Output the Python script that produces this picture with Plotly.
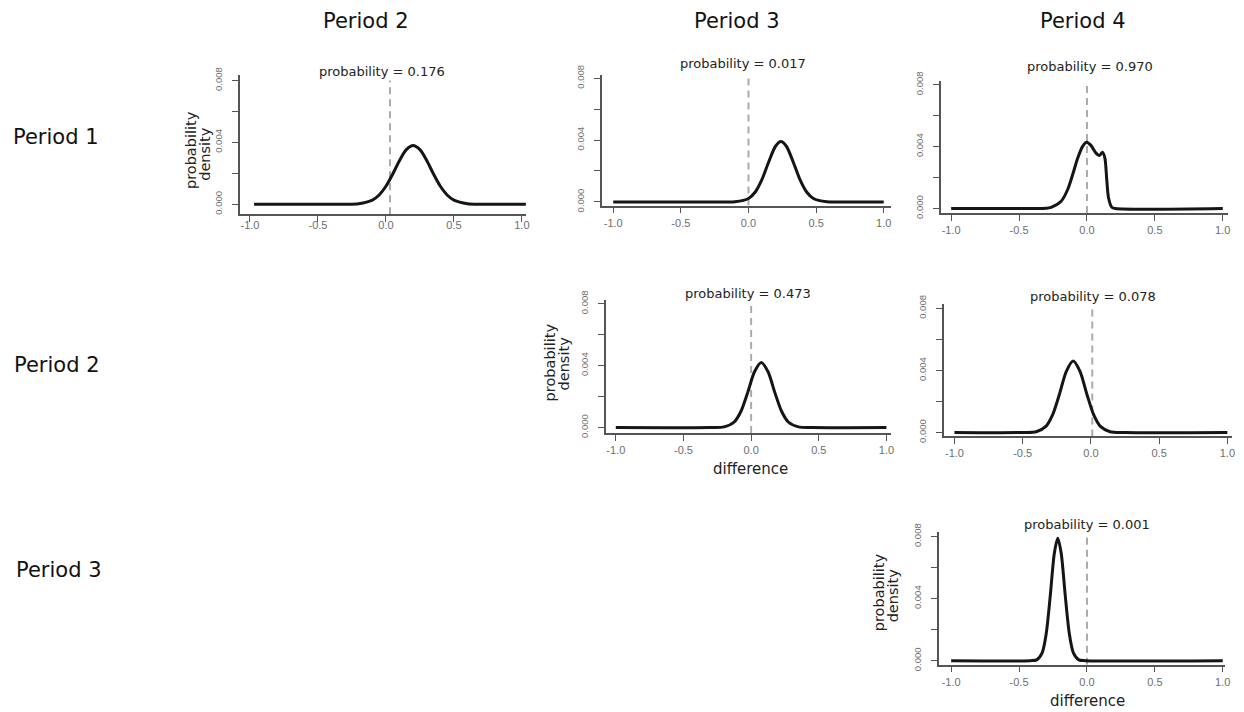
import plotly.graph_objects as go

# ---------------- data ----------------
col_titles = ["Period 2", "Period 3", "Period 4"]
row_titles = ["Period 1", "Period 2", "Period 3"]

x_ticks = [-1.0, -0.5, 0.0, 0.5, 1.0]
x_tick_labels = ["-1.0", "-0.5", "0.0", "0.5", "1.0"]
y_ticks = [0.0, 0.002, 0.004, 0.006, 0.008]
y_tick_labels = ["0.000", "", "0.004", "", "0.008"]

# Period 1 vs Period 2
p1_p2_x = [-0.97, -0.40, -0.30, -0.20, -0.10, -0.05, 0.00, 0.05, 0.10, 0.15, 0.20,
           0.25, 0.30, 0.35, 0.40, 0.45, 0.50, 0.60, 0.70, 1.03]
p1_p2_y = [0.0, 0.0, 0.000002, 0.000034, 0.000266, 0.000598, 0.00116, 0.00195, 0.00283,
           0.00353, 0.0038, 0.00353, 0.00283, 0.00195, 0.00116, 0.000598, 0.000266,
           0.000034, 0.000002, 0.0]
# Period 1 vs Period 3
p1_p3_x = [-1.0, -0.20, -0.10, 0.00, 0.05, 0.10, 0.15, 0.20, 0.24, 0.28, 0.33, 0.38,
           0.43, 0.48, 0.58, 0.70, 1.0]
p1_p3_y = [0.0, 0.0, 0.000012, 0.00022, 0.00064, 0.00146, 0.0026, 0.0036, 0.0039,
           0.0036, 0.0026, 0.00146, 0.00064, 0.00022, 0.000012, 0.0, 0.0]
# Period 1 vs Period 4
p1_p4_x = [-1.0, -0.40, -0.30, -0.264, -0.19, -0.142, -0.105, -0.068, -0.032, -0.002,
           0.029, 0.066, 0.09, 0.115, 0.132, 0.145, 0.159, 0.183, 0.21, 1.0]
p1_p4_y = [0.0, 0.0, 0.00002, 0.00008, 0.00047, 0.00123, 0.0022, 0.00326, 0.00402,
           0.00428, 0.00408, 0.00359, 0.00342, 0.00363, 0.00326, 0.00197, 0.00068,
           0.00008, 0.0, 0.0]
# Period 2 vs Period 3
p2_p3_x = [-1.0, -0.30, -0.20, -0.125, -0.075, -0.025, 0.025, 0.075, 0.125, 0.175,
           0.225, 0.275, 0.35, 0.45, 1.0]
p2_p3_y = [0.0, 0.000001, 0.000039, 0.000355, 0.00105, 0.00227, 0.0036, 0.0042,
           0.0036, 0.00227, 0.00105, 0.000355, 0.000039, 0.0, 0.0]
# Period 2 vs Period 4
p2_p4_x = [-1.0, -0.50, -0.40, -0.33, -0.28, -0.23, -0.18, -0.13, -0.08, -0.03, 0.02,
           0.07, 0.14, 0.25, 1.0]
p2_p4_y = [0.0, 0.0, 0.000051, 0.00039, 0.00115, 0.00248, 0.00394, 0.0046, 0.00394,
           0.00248, 0.00115, 0.00039, 0.000051, 0.0, 0.0]
# Period 3 vs Period 4
p3_p4_x = [-1.0, -0.42, -0.37, -0.33, -0.30, -0.27, -0.24, -0.215, -0.19, -0.16, -0.13,
           -0.10, -0.06, -0.01, 1.0]
p3_p4_y = [0.0, 0.000001, 0.000053, 0.000505, 0.00175, 0.00421, 0.00694, 0.0079,
           0.00694, 0.00421, 0.00175, 0.000505, 0.000053, 0.000001, 0.0]

probabilities = ["0.176", "0.017", "0.970", "0.473", "0.078", "0.001"]
reference_x = [0.03, 0.0, 0.0, 0.0, 0.01, 0.0]

curves_x = [p1_p2_x, p1_p3_x, p1_p4_x, p2_p3_x, p2_p4_x, p3_p4_x]
curves_y = [p1_p2_y, p1_p3_y, p1_p4_y, p2_p3_y, p2_p4_y, p3_p4_y]

# ---------------- layout (pixel geometry of each panel) ----------------
W, H = 1244, 712
# left, right, top, bottom, px of x=-1, px of x=1, px of y=0, px of y=0.008
geom = [
    (241.0, 528.0, 74.0, 213.0, 251.0, 524.0, 203.0, 79.0),
    (604.0, 895.0, 73.3, 204.3, 615.7, 887.3, 200.7, 76.7),
    (944.3, 1233.3, 79.3, 211.7, 955.0, 1227.7, 207.3, 83.3),
    (608.3, 895.0, 299.3, 432.3, 618.3, 890.0, 426.7, 302.7),
    (947.7, 1236.7, 303.3, 435.7, 958.3, 1232.3, 431.7, 307.3),
    (942.7, 1230.0, 531.7, 664.3, 955.0, 1227.7, 660.3, 536.0),
]
x_label_standoff = [-6, 0, 0, 0, 0, 0]
prob_pos = [(384, 70), (746, 62), (1094, 65), (751, 292), (1097, 295), (1091, 524)]

AX = "#555555"
TICKF = "#6e6e6e"
TXT = "#222222"

fig = go.Figure()
layout = dict(width=W, height=H, margin=dict(l=0, r=0, t=0, b=0),
              paper_bgcolor="white", plot_bgcolor="white", showlegend=False)
shapes = []
annotations = []


def px(x):
    return x / W


def fy(y):
    # vertical correction measured between the rendered page and the target
    return (y - 8.4) / 0.978


def py(y):
    return 1 - fy(y) / H


for i in range(6):
    n = i + 1
    sfx = "" if n == 1 else str(n)
    left, right, top, bottom, xa, xb, y0, y8 = geom[i]
    top, bottom, y0, y8 = fy(top), fy(bottom), fy(y0), fy(y8)
    ux = (xb - xa) / 2.0
    vy = (y0 - y8) / 0.008
    xr = [-1 + (left - xa) / ux, 1 + (right - xb) / ux]
    yr = [-(bottom - y0) / vy, 0.008 + (y8 - top) / vy]

    layout["xaxis" + sfx] = dict(
        domain=[px(left), px(right)], range=xr, anchor="y" + sfx,
        showline=True, linecolor=AX, linewidth=1.6, mirror=False,
        ticks="outside", ticklen=6, tickwidth=1.3, tickcolor=AX,
        tickvals=x_ticks, ticktext=x_tick_labels,
        tickfont=dict(family="Liberation Sans", size=11, color=TICKF),
        showgrid=False, zeroline=False, fixedrange=True)
    layout["yaxis" + sfx] = dict(
        domain=[1 - bottom / H, 1 - top / H], range=yr, anchor="x" + sfx,
        showline=True, linecolor=AX, linewidth=1.6,
        ticks="outside", ticklen=6, tickwidth=1.3, tickcolor=AX,
        tickvals=y_ticks, ticktext=y_tick_labels, tickangle=-90,
        ticklabelstandoff=6,
        tickfont=dict(family="Liberation Sans", size=9.5, color=TICKF),
        showgrid=False, zeroline=False, fixedrange=True)

    fig.add_trace(go.Scatter(
        x=curves_x[i], y=curves_y[i], mode="lines",
        line=dict(color="#151515", width=3, shape="spline", smoothing=0.8),
        xaxis="x" + sfx, yaxis="y" + sfx, hoverinfo="skip"))

    shapes.append(dict(type="line", xref="x" + sfx, yref="y" + sfx,
                       x0=reference_x[i], x1=reference_x[i], y0=yr[0], y1=0.008,
                       line=dict(color="#ababab", width=2, dash="7px,5px"),
                       layer="below"))

    annotations.append(dict(
        text="probability = " + probabilities[i],
        x=px(prob_pos[i][0]), y=py(prob_pos[i][1]), xref="paper", yref="paper",
        xanchor="center", yanchor="middle", showarrow=False,
        font=dict(family="DejaVu Sans", size=13, color=TXT)))

# column and row titles
for t, (cx, cy) in zip(col_titles, [(367, 19), (740, 19), (1087, 19)]):
    annotations.append(dict(text=t, x=px(cx), y=py(cy), xref="paper", yref="paper",
                            xanchor="center", yanchor="middle", showarrow=False,
                            font=dict(family="DejaVu Sans", size=21, color="#111111")))
for t, (cx, cy) in zip(row_titles, [(56, 136), (57.5, 364), (59, 569)]):
    annotations.append(dict(text=t, x=px(cx), y=py(cy), xref="paper", yref="paper",
                            xanchor="center", yanchor="middle", showarrow=False,
                            font=dict(family="DejaVu Sans", size=21, color="#111111")))

# y-axis titles (two lines each)
ylab_pos = [((192.5, 149), (205.8, 152.5)),
            ((551.7, 361), (565.8, 363)),
            ((883.3, 592), (897.5, 595))]
for (p1, p2) in ylab_pos:
    for word, (cx, cy) in (("probability", p1), ("density", p2)):
        annotations.append(dict(text=word, x=px(cx), y=py(cy), xref="paper",
                                yref="paper", xanchor="center", yanchor="middle",
                                textangle=-90, showarrow=False,
                                font=dict(family="DejaVu Sans", size=14.5, color=TXT)))

# x-axis titles
for (cx, cy) in [(754, 468), (1092, 701)]:
    annotations.append(dict(text="difference", x=px(cx), y=py(cy), xref="paper",
                            yref="paper", xanchor="center", yanchor="middle",
                            showarrow=False,
                            font=dict(family="DejaVu Sans", size=15, color=TXT)))

layout["shapes"] = shapes
layout["annotations"] = annotations
fig.update_layout(**layout)

# pull the first panel's x tick labels up towards its axis, as in the target
for i, s in enumerate(x_label_standoff):
    if s:
        key = "xaxis" if i == 0 else "xaxis" + str(i + 1)
        try:
            fig.update_layout({key: dict(ticklabelstandoff=s)})
        except Exception:
            pass

fig.write_html("out.html")
